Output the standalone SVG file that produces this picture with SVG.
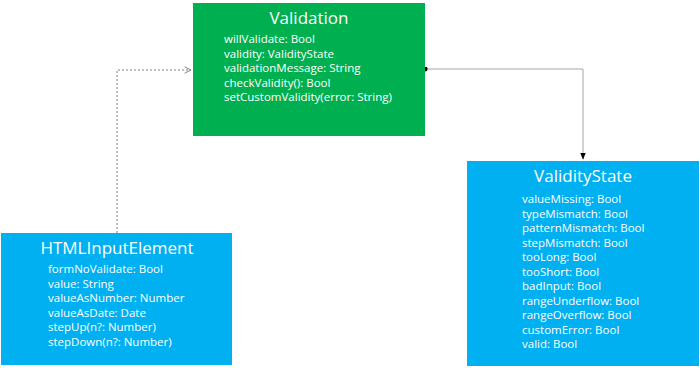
<svg xmlns="http://www.w3.org/2000/svg" width="700" height="368" viewBox="0 0 700 368">
<style>
.title{font-family:"Open Sans","Noto Sans",sans-serif;font-size:17px;fill:#fff;text-anchor:middle}
.attr{font-family:"Open Sans","Noto Sans",sans-serif;font-size:11.5px;fill:#fff}
.conn{fill:none;stroke:#a6a6a6;stroke-width:1}
.dash{stroke:#808080;stroke-dasharray:2,2}
</style>
<defs>
<marker id="open" viewBox="0 0 10 10" refX="9" refY="5" markerWidth="8" markerHeight="8" orient="auto" markerUnits="userSpaceOnUse">
<path d="M1,1 L9,5 L1,9" fill="none" stroke="#808080" stroke-width="1.2"/>
</marker>
<marker id="fill" viewBox="0 0 10 10" refX="9" refY="5" markerWidth="7" markerHeight="7" orient="auto" markerUnits="userSpaceOnUse">
<path d="M0,1 L10,5 L0,9 Z" fill="#000"/>
</marker>
<marker id="dot" viewBox="0 0 10 10" refX="5" refY="5" markerWidth="5" markerHeight="5" markerUnits="userSpaceOnUse">
<circle cx="5" cy="5" r="5" fill="#000"/>
</marker>
</defs>
<g id="connectors">
<path class="conn dash" d="M117,233 V70 H191" marker-end="url(#open)"/>
<path class="conn" d="M425,69 H583 V159" marker-start="url(#dot)" marker-end="url(#fill)"/>
</g>
<g id="validation">
<rect x="193" y="3" width="232" height="133" fill="#00b050"/>
<text class="title" x="309" y="24">Validation</text>
<text class="attr" x="224" y="43">willValidate: Bool</text>
<text class="attr" x="224" y="57.5">validity: ValidityState</text>
<text class="attr" x="224" y="72">validationMessage: String</text>
<text class="attr" x="224" y="86.5">checkValidity(): Bool</text>
<text class="attr" x="224" y="101">setCustomValidity(error: String)</text>
</g>
<g id="validitystate">
<rect x="467" y="161" width="232" height="205" fill="#00b0f0"/>
<text class="title" x="583" y="182">ValidityState</text>
<text class="attr" x="522" y="203">valueMissing: Bool</text>
<text class="attr" x="522" y="217.5">typeMismatch: Bool</text>
<text class="attr" x="522" y="232">patternMismatch: Bool</text>
<text class="attr" x="522" y="246.5">stepMismatch: Bool</text>
<text class="attr" x="522" y="261">tooLong: Bool</text>
<text class="attr" x="522" y="275.5">tooShort: Bool</text>
<text class="attr" x="522" y="290">badInput: Bool</text>
<text class="attr" x="522" y="304.5">rangeUnderflow: Bool</text>
<text class="attr" x="522" y="319">rangeOverflow: Bool</text>
<text class="attr" x="522" y="333.5">customError: Bool</text>
<text class="attr" x="522" y="348">valid: Bool</text>
</g>
<g id="htmlinputelement">
<rect x="1" y="233" width="231" height="132" fill="#00b0f0"/>
<text class="title" x="117" y="254">HTMLInputElement</text>
<text class="attr" x="48" y="273">formNoValidate: Bool</text>
<text class="attr" x="48" y="287.5">value: String</text>
<text class="attr" x="48" y="302">valueAsNumber: Number</text>
<text class="attr" x="48" y="316.5">valueAsDate: Date</text>
<text class="attr" x="48" y="331">stepUp(n?: Number)</text>
<text class="attr" x="48" y="345.5">stepDown(n?: Number)</text>
</g>
</svg>
